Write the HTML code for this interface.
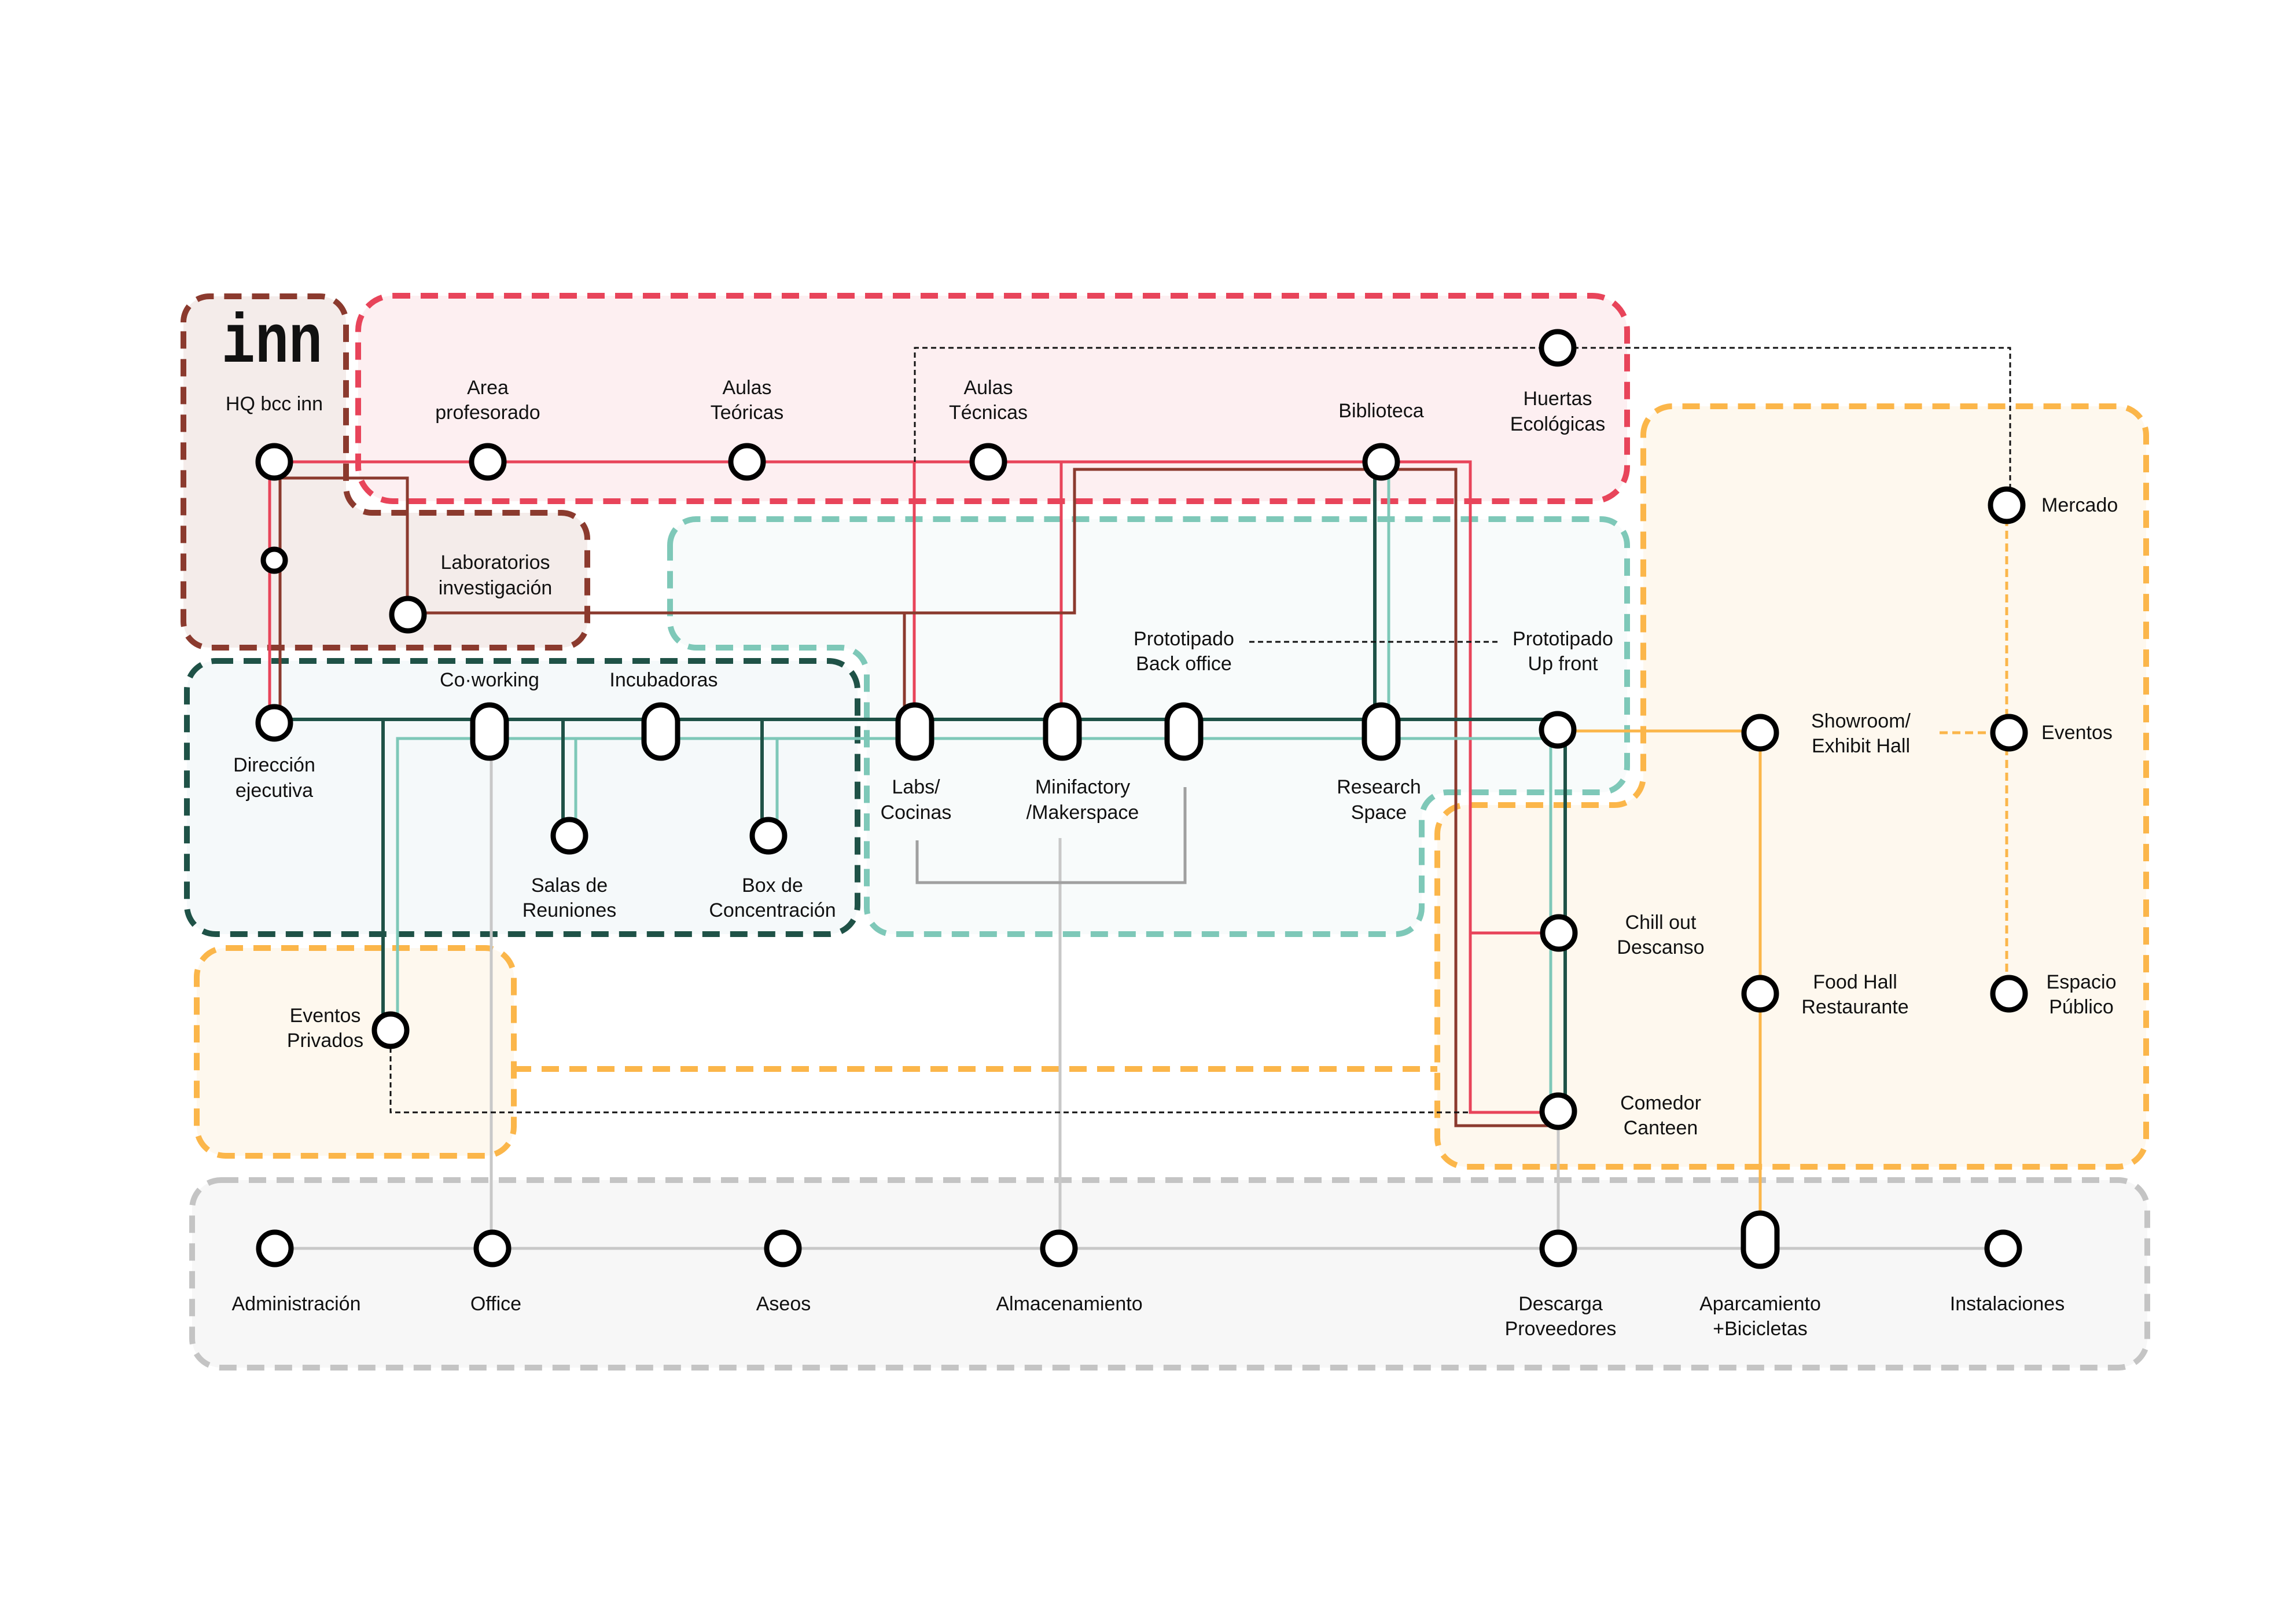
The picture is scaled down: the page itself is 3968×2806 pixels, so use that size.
<!DOCTYPE html>
<html><head><meta charset="utf-8"><style>
html,body{margin:0;padding:0;background:#fff}
svg{display:block}
text{font-family:"Liberation Sans",sans-serif;font-size:34px;fill:#111;text-anchor:middle;dominant-baseline:central}
.l{text-anchor:start}
</style></head><body>
<svg width="3968" height="2806" viewBox="0 0 3968 2806" xmlns="http://www.w3.org/2000/svg">
<g stroke-width="10" stroke-dasharray="30 18">
<rect x="619" y="511" width="2193" height="355" rx="60" fill="#FDEFF1" stroke="#E8445A"/>
<path d="M317,557 A45,45 0 0 1 362,512 H553 A45,45 0 0 1 598,557 V841 A45,45 0 0 0 643,886 H970 A45,45 0 0 1 1015,931 V1074 A45,45 0 0 1 970,1119 H362 A45,45 0 0 1 317,1074 Z" fill="#F4ECEA" stroke="#8B3A2E"/>
<path d="M1158,942 A45,45 0 0 1 1203,897 H2767 A45,45 0 0 1 2812,942 V1324 A45,45 0 0 1 2767,1369 H2502 A45,45 0 0 0 2457,1414 V1569 A45,45 0 0 1 2412,1614 H1543 A45,45 0 0 1 1498,1569 V1164 A45,45 0 0 0 1453,1119 H1203 A45,45 0 0 1 1158,1074 Z" fill="#F8FBFB" stroke="#7EC8B8"/>
<rect x="323" y="1142" width="1159" height="472" rx="50" fill="#F5F9FA" stroke="#1F5247"/>
<path d="M2840,752 A50,50 0 0 1 2890,702 H3659 A50,50 0 0 1 3709,752 V1966 A50,50 0 0 1 3659,2016 H2534 A50,50 0 0 1 2484,1966 V1441 A50,50 0 0 1 2534,1391 H2790 A50,50 0 0 0 2840,1341 Z" fill="#FEF8EE" stroke="#FBB64A"/>
<rect x="340" y="1638" width="548" height="359" rx="50" fill="#FEF8EE" stroke="#FBB64A"/>
<rect x="332" y="2039" width="3379" height="324" rx="50" fill="#F7F7F7" stroke="#C4C4C4"/>
<path d="M888,1847 H2484" fill="none" stroke="#FBB64A"/>
</g>
<g fill="none" stroke-width="5">
<path d="M849,1264 V2157 M1832,1448 V2157 M2693,1920 V2157 M475,2157 H3462" stroke="#C8C8C8"/>
<path d="M1585,1452 V1525 H2048 V1360" stroke="#A0A0A0"/>
<path d="M474,798 H2541 V1922 H2693 M2541,1612 H2694 M466,798 V1249 M1580,798 V1264 M1834,798 V1264" stroke="#E8445A"/>
<path d="M484,798 V1249 M474,826 H704 V1062 M705,1059 H1857 V811 H2516 V1945 H2693 M1563,1059 V1264" stroke="#8B3A2E"/>
<path d="M687,1780 V1276 H2692 M995,1276 V1444 M1343,1276 V1444 M2400,798 V1264 M2680,1261 V1920" stroke="#7EC8B8"/>
<path d="M474,1243 H2692 M662,1243 V1780 M973,1243 V1444 M1317,1243 V1444 M2376,798 V1264 M2705,1261 V1920" stroke="#1F5247" stroke-width="6"/>
<path d="M2692,1263 H3042 V2142" stroke="#FBB64A"/>
<path d="M3468,873 V1717 M3352,1266 H3440" stroke="#FBB64A" stroke-dasharray="14 8"/>
<path d="M1581,798 V601 H3474 V873 M675,1780 V1922 H2541 M2159,1109 H2588" stroke="#111" stroke-width="3" stroke-dasharray="9 6"/>
</g>
<g fill="#fff" stroke="#000" stroke-width="9">
<circle cx="474" cy="798" r="28"/><circle cx="843" cy="798" r="28"/><circle cx="1291" cy="798" r="28"/><circle cx="1708" cy="798" r="28"/><circle cx="2387" cy="798" r="28"/><circle cx="2692" cy="601" r="28"/>
<circle cx="474" cy="968" r="19"/><circle cx="705" cy="1062" r="28"/><circle cx="474" cy="1249" r="28"/>
<circle cx="984" cy="1444" r="28"/><circle cx="1328" cy="1444" r="28"/><circle cx="675" cy="1780" r="28"/>
<circle cx="2692" cy="1261" r="28"/><circle cx="3042" cy="1266" r="28"/><circle cx="3472" cy="1266" r="28"/><circle cx="3468" cy="873" r="28"/>
<circle cx="2694" cy="1612" r="28"/><circle cx="2693" cy="1920" r="28"/><circle cx="3042" cy="1717" r="28"/><circle cx="3472" cy="1717" r="28"/>
<circle cx="475" cy="2157" r="28"/><circle cx="851" cy="2157" r="28"/><circle cx="1353" cy="2157" r="28"/><circle cx="1830" cy="2157" r="28"/><circle cx="2693" cy="2157" r="28"/><circle cx="3462" cy="2157" r="28"/>
<rect x="817" y="1218" width="58" height="92" rx="29"/><rect x="1113" y="1218" width="58" height="92" rx="29"/>
<rect x="1552" y="1218" width="58" height="92" rx="29"/><rect x="1807" y="1218" width="58" height="92" rx="29"/>
<rect x="2017" y="1218" width="58" height="92" rx="29"/><rect x="2358" y="1218" width="58" height="92" rx="29"/>
<rect x="3013" y="2096" width="58" height="92" rx="29"/>
</g>
<text x="470" y="625" style="font-family:'Liberation Mono',monospace;font-weight:bold;font-size:120px;dominant-baseline:alphabetic" textLength="174" lengthAdjust="spacingAndGlyphs">inn</text>
<text x="474" y="698">HQ bcc inn</text>
<text x="843" y="670">Area</text><text x="843" y="713">profesorado</text>
<text x="1291" y="670">Aulas</text><text x="1291" y="713">Teóricas</text>
<text x="1708" y="670">Aulas</text><text x="1708" y="713">Técnicas</text>
<text x="2387" y="710">Biblioteca</text>
<text x="2692" y="689">Huertas</text><text x="2692" y="733">Ecológicas</text>
<text x="856" y="972">Laboratorios</text><text x="856" y="1016">investigación</text>
<text x="846" y="1175">Co·working</text><text x="1147" y="1175">Incubadoras</text>
<text x="474" y="1322">Dirección</text><text x="474" y="1366">ejecutiva</text>
<text x="984" y="1530">Salas de</text><text x="984" y="1573">Reuniones</text>
<text x="1335" y="1530">Box de</text><text x="1335" y="1573">Concentración</text>
<text x="1583" y="1360">Labs/</text><text x="1583" y="1404">Cocinas</text>
<text x="1871" y="1360">Minifactory</text><text x="1871" y="1404">/Makerspace</text>
<text x="2383" y="1360">Research</text><text x="2383" y="1404">Space</text>
<text x="2046" y="1104">Prototipado</text><text x="2046" y="1147">Back office</text>
<text x="2701" y="1104">Prototipado</text><text x="2701" y="1147">Up front</text>
<text class="l" x="3528" y="873">Mercado</text><text class="l" x="3528" y="1266">Eventos</text>
<text x="3216" y="1246">Showroom/</text><text x="3216" y="1289">Exhibit Hall</text>
<text x="2870" y="1594">Chill out</text><text x="2870" y="1637">Descanso</text>
<text x="2870" y="1906">Comedor</text><text x="2870" y="1949">Canteen</text>
<text x="3206" y="1697">Food Hall</text><text x="3206" y="1740">Restaurante</text>
<text x="3597" y="1697">Espacio</text><text x="3597" y="1740">Público</text>
<text x="562" y="1755">Eventos</text><text x="562" y="1798">Privados</text>
<text x="512" y="2253">Administración</text><text x="857" y="2253">Office</text><text x="1354" y="2253">Aseos</text><text x="1848" y="2253">Almacenamiento</text>
<text x="2697" y="2253">Descarga</text><text x="2697" y="2296">Proveedores</text>
<text x="3042" y="2253">Aparcamiento</text><text x="3042" y="2296">+Bicicletas</text>
<text x="3469" y="2253">Instalaciones</text>
</svg>
</body></html>
